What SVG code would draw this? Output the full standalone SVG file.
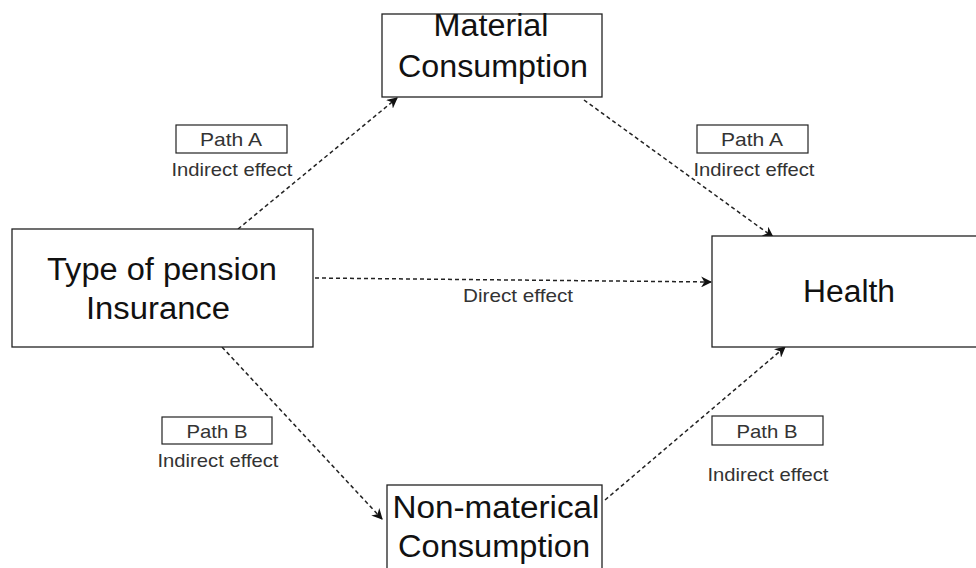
<svg xmlns="http://www.w3.org/2000/svg" width="976" height="568" viewBox="0 0 976 568">
<style>
.node{fill:#fff;stroke:#222;stroke-width:1.3}
.nt{font-family:"Liberation Sans",Arial,sans-serif;font-size:31px;fill:#111;text-anchor:middle}
.lbox{fill:#fff;stroke:#222;stroke-width:1.2}
.lt{font-family:"Liberation Sans",Arial,sans-serif;font-size:18.5px;fill:#333;text-anchor:middle}
.edge{stroke:#222;stroke-width:1.5;stroke-dasharray:4 3;fill:none;marker-end:url(#ah)}
</style>
<defs>
<marker id="ah" viewBox="0 0 10 10" refX="9" refY="5" markerWidth="11" markerHeight="11" markerUnits="userSpaceOnUse" orient="auto">
<path d="M0,0 L10,5 L0,10 L3,5 Z" fill="#111"/>
</marker>
</defs>
<g id="connectors">
<line class="edge" x1="238" y1="229" x2="397" y2="98"/>
<line class="edge" x1="584" y1="100" x2="773" y2="237"/>
<line class="edge" x1="222" y1="347" x2="382" y2="519"/>
<line class="edge" x1="605" y1="500" x2="785" y2="347"/>
<line class="edge" x1="315" y1="278" x2="711" y2="282"/>
</g>
<g id="material">
<rect class="node" x="382" y="14" width="220" height="83"/>
<text class="nt" x="491" y="36" textLength="115" lengthAdjust="spacingAndGlyphs">Material</text>
<text class="nt" x="493" y="77" textLength="190" lengthAdjust="spacingAndGlyphs">Consumption</text>
</g>
<g id="pension">
<rect class="node" x="12" y="229" width="301" height="118"/>
<text class="nt" x="162" y="280" textLength="230" lengthAdjust="spacingAndGlyphs">Type of pension</text>
<text class="nt" x="158" y="319" textLength="144" lengthAdjust="spacingAndGlyphs">Insurance</text>
</g>
<g id="health">
<rect class="node" x="712" y="236" width="272" height="111"/>
<text class="nt" x="849" y="302" textLength="92" lengthAdjust="spacingAndGlyphs">Health</text>
</g>
<g id="nonmaterial">
<rect class="node" x="387" y="485" width="215" height="100"/>
<text class="nt" x="496" y="518" textLength="207" lengthAdjust="spacingAndGlyphs">Non-materical</text>
<text class="nt" x="494" y="557" textLength="192" lengthAdjust="spacingAndGlyphs">Consumption</text>
</g>
<g id="labelA1">
<rect class="lbox" x="176" y="125" width="111" height="28"/>
<text class="lt" x="231" y="146" textLength="62" lengthAdjust="spacingAndGlyphs">Path A</text>
<text class="lt" x="232" y="176" textLength="121" lengthAdjust="spacingAndGlyphs">Indirect effect</text>
</g>
<g id="labelA2">
<rect class="lbox" x="697" y="125" width="111" height="28"/>
<text class="lt" x="752" y="146" textLength="62" lengthAdjust="spacingAndGlyphs">Path A</text>
<text class="lt" x="754" y="176" textLength="121" lengthAdjust="spacingAndGlyphs">Indirect effect</text>
</g>
<g id="labelB1">
<rect class="lbox" x="162" y="417" width="110" height="27"/>
<text class="lt" x="217" y="438" textLength="61" lengthAdjust="spacingAndGlyphs">Path B</text>
<text class="lt" x="218" y="467" textLength="121" lengthAdjust="spacingAndGlyphs">Indirect effect</text>
</g>
<g id="labelB2">
<rect class="lbox" x="712" y="416" width="111" height="29"/>
<text class="lt" x="767" y="438" textLength="61" lengthAdjust="spacingAndGlyphs">Path B</text>
<text class="lt" x="768" y="481" textLength="121" lengthAdjust="spacingAndGlyphs">Indirect effect</text>
</g>
<g id="direct">
<text class="lt" x="518" y="302" textLength="110" lengthAdjust="spacingAndGlyphs">Direct effect</text>
</g>
</svg>
